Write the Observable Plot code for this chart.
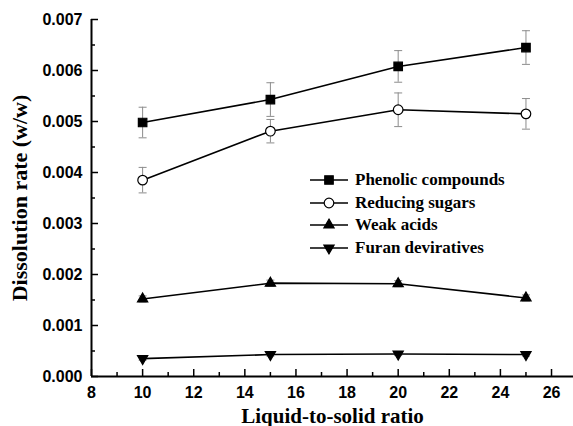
<!DOCTYPE html>
<html><head><meta charset="utf-8">
<script src="https://cdn.jsdelivr.net/npm/d3@7"></script>
<script src="https://cdn.jsdelivr.net/npm/@observablehq/plot@0.6"></script>
<style>
body{margin:0;background:#fff;}
#wrap{position:relative;width:573px;height:426px;}
#legend{position:absolute;left:310px;top:169px;font-family:"Liberation Serif",serif;font-weight:bold;font-size:17px;color:#000;}
#legend .row{display:flex;align-items:center;height:22.5px;}
#legend svg{margin-right:7px;}
</style></head><body><div id="wrap"></div>
<script>
const ratios = [10, 15, 20, 25];
const seriesNames = ["Phenolic compounds", "Reducing sugars", "Weak acids", "Furan deviratives"];
const phenolic = [0.00498, 0.00543, 0.00608, 0.00645];
const phenolicErr = [0.00030, 0.00033, 0.00031, 0.00033];
const sugars = [0.00385, 0.00481, 0.00523, 0.00515];
const sugarsErr = [0.00025, 0.00023, 0.00033, 0.00030];
const acids = [0.00152, 0.00183, 0.00182, 0.00154];
const acidsErr = [0.00006, 0.00006, 0.00006, 0.00006];
const furans = [0.00035, 0.00043, 0.00044, 0.00043];
const furansErr = [0.00003, 0.00003, 0.00003, 0.00003];
const xTicks = [8, 10, 12, 14, 16, 18, 20, 22, 24, 26];
const xMinor = [9, 11, 13, 15, 17, 19, 21, 23, 25];
const yTicks = [0, 0.001, 0.002, 0.003, 0.004, 0.005, 0.006, 0.007];
const yMinor = [0.0005, 0.0015, 0.0025, 0.0035, 0.0045, 0.0055, 0.0065];
const xLabel = "Liquid-to-solid ratio";
const yLabel = "Dissolution rate (w/w)";

const values = [phenolic, sugars, acids, furans];
const errs = [phenolicErr, sugarsErr, acidsErr, furansErr];
const rows = [];
seriesNames.forEach((s, i) => ratios.forEach((r, j) => rows.push({
  series: s, ratio: r, value: values[i][j], lo: values[i][j] - errs[i][j], hi: values[i][j] + errs[i][j]
})));

const capSymbol = {draw(ctx) { ctx.moveTo(-4, 0); ctx.lineTo(4, 0); }};
const downTriangle = {draw(ctx, size) {
  const y = Math.sqrt(size / (Math.sqrt(3) * 3));
  ctx.moveTo(0, y * 2); ctx.lineTo(-Math.sqrt(3) * y, -y); ctx.lineTo(Math.sqrt(3) * y, -y); ctx.closePath();
}};
const styles = {
  "Phenolic compounds": {symbol: "square", fill: "black", r: 4.8},
  "Reducing sugars": {symbol: "circle", fill: "white", r: 4.8},
  "Weak acids": {symbol: "triangle", fill: "black", r: 3.8},
  "Furan deviratives": {symbol: downTriangle, fill: "black", r: 3.8}
};
const serif = "Liberation Serif, Times New Roman, serif";

const marks = [
  Plot.ruleX(rows, {x: "ratio", y1: "lo", y2: "hi", stroke: "#8c8c8c", strokeWidth: 1}),
  Plot.dot(rows, {x: "ratio", y: "lo", symbol: capSymbol, stroke: "#8c8c8c", strokeWidth: 1, fill: "none"}),
  Plot.dot(rows, {x: "ratio", y: "hi", symbol: capSymbol, stroke: "#8c8c8c", strokeWidth: 1, fill: "none"}),
  Plot.line(rows, {x: "ratio", y: "value", z: "series", stroke: "black", strokeWidth: 1.6}),
  ...seriesNames.map(s => Plot.dot(rows.filter(d => d.series === s), {
    x: "ratio", y: "value", symbol: styles[s].symbol, r: styles[s].r,
    fill: styles[s].fill, stroke: "black", strokeWidth: 1.2
  })),
  Plot.ruleY([0], {strokeWidth: 2}),
  Plot.ruleX([8], {strokeWidth: 2}),
  Plot.axisX(xTicks, {anchor: "bottom", tickSize: 0, tickPadding: 10, tickFormat: d => String(d), label: null}),
  Plot.axisX(xTicks, {anchor: "bottom", tickSize: 0, tickFormat: () => "", fontFamily: serif, fontSize: 21, fontWeight: "bold",
    label: xLabel, labelAnchor: "center", labelOffset: 46, labelArrow: "none"}),
  Plot.axisX(xTicks, {anchor: "bottom", tickSize: -7, fill: "none", strokeWidth: 1.5}),
  Plot.axisX(xMinor, {anchor: "bottom", tickSize: -4, fill: "none", strokeWidth: 1.5}),
  Plot.axisY(yTicks, {anchor: "left", tickSize: 0, tickPadding: 9, tickFormat: d3.format(".3f"), label: null}),
  Plot.axisY(yTicks, {anchor: "left", tickSize: 0, tickFormat: () => "", fontFamily: serif, fontSize: 22, fontWeight: "bold",
    label: yLabel, labelAnchor: "center", labelOffset: 80, labelArrow: "none"}),
  Plot.axisY(yTicks, {anchor: "left", tickSize: -7, fill: "none", strokeWidth: 1.5}),
  Plot.axisY(yMinor, {anchor: "left", tickSize: -4, fill: "none", strokeWidth: 1.5})
];

const chart = Plot.plot({
  width: 573, height: 426,
  marginLeft: 91, marginRight: 0, marginTop: 19, marginBottom: 50,
  x: {domain: [8, 26.86], axis: null},
  y: {domain: [0, 0.007], axis: null},
  style: {fontFamily: "Liberation Sans, Arial, sans-serif", fontSize: "16px", fontWeight: "bold", color: "black", background: "white"},
  marks
});
const wrap = document.getElementById("wrap");
wrap.appendChild(chart);

// legend
const legend = d3.select(wrap).append("div").attr("id", "legend");
seriesNames.forEach(s => {
  const row = legend.append("div").attr("class", "row");
  const svg = row.append("svg").attr("width", 38).attr("height", 22);
  svg.append("line").attr("x1", 0).attr("x2", 38).attr("y1", 11).attr("y2", 11).attr("stroke", "black").attr("stroke-width", 1.6);
  const st = styles[s];
  const symType = typeof st.symbol === "string" ? {square: d3.symbolSquare, circle: d3.symbolCircle, triangle: d3.symbolTriangle}[st.symbol] : st.symbol;
  svg.append("path").attr("transform", "translate(19,11)")
    .attr("d", d3.symbol(symType, Math.PI * st.r * st.r)())
    .attr("fill", st.fill).attr("stroke", "black").attr("stroke-width", 1.2);
  row.append("span").text(s);
});
</script></body></html>
